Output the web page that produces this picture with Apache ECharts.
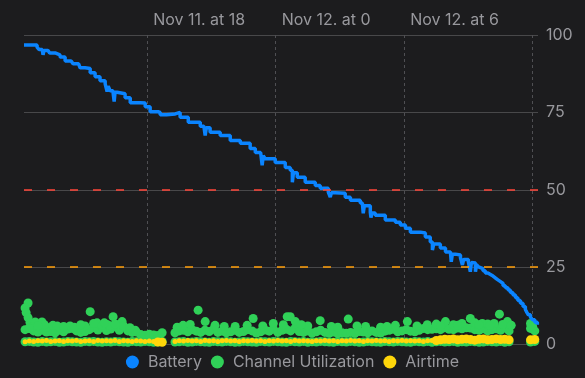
<!DOCTYPE html>
<html>
<head>
<meta charset="utf-8">
<script src="https://cdn.jsdelivr.net/npm/echarts@6/dist/echarts.min.js"></script>
<style>
  html, body { margin: 0; padding: 0; background: #1c1c1e; }
  #chart { width: 585px; height: 378px; }
</style>
</head>
<body>
<div id="chart"></div>
<script>
// x axis is hours since Nov 11 00:00
const tickHours = [18, 24, 30, 36];
const labelHours = [18, 24, 30];
const tickLabels = ["Nov 11. at 18", "Nov 12. at 0", "Nov 12. at 6"];

// battery level [hour, %]
const battery = [
  [12.25, 96.8], [12.86, 96.1], [12.95, 95.3], [13.10, 95.2], [13.14, 93.6], [13.18, 95.0],
  [13.37, 94.9], [13.45, 94.2], [13.70, 93.6], [13.93, 92.9], [14.17, 91.6], [14.45, 91.3],
  [14.54, 90.7], [14.80, 90.4], [14.87, 89.4], [15.10, 89.2], [15.34, 87.8], [15.57, 86.5],
  [15.80, 85.2], [16.04, 84.2], [16.13, 81.7], [16.18, 83.5], [16.27, 82.0], [16.40, 82.0],
  [16.46, 78.5], [16.50, 81.5], [16.60, 81.0], [16.97, 79.7], [17.21, 78.1], [17.67, 78.0],
  [17.91, 76.8], [18.14, 75.2], [18.51, 75.0], [18.61, 74.2], [18.90, 74.5], [19.31, 75.0],
  [19.54, 73.4], [19.92, 71.8], [20.48, 70.5], [20.65, 70.3], [20.71, 67.5], [20.76, 70.0],
  [20.94, 68.6], [21.41, 67.5], [21.88, 65.9], [22.35, 65.0], [22.81, 63.3], [23.05, 62.0],
  [23.30, 61.5], [23.37, 57.9], [23.42, 61.0], [23.51, 60.0], [23.98, 58.8], [24.45, 57.2],
  [24.68, 56.3], [24.78, 52.4], [24.83, 55.5], [25.01, 54.0], [25.38, 52.4], [25.85, 51.4],
  [26.08, 50.5], [26.46, 49.2], [26.55, 47.6], [26.60, 49.0], [26.79, 48.9], [27.25, 47.6],
  [27.49, 46.6], [27.95, 45.7], [28.05, 45.5], [28.09, 42.4], [28.14, 44.8], [28.42, 42.8],
  [28.45, 41.0], [28.50, 42.5], [28.65, 41.8], [29.12, 40.2], [29.59, 39.5], [29.82, 38.6],
  [30.06, 37.6], [30.29, 36.3], [30.76, 36.0], [30.99, 34.7], [31.22, 33.1], [31.32, 30.5],
  [31.38, 32.5], [31.69, 31.2], [31.93, 29.9], [32.16, 29.5], [32.20, 26.7], [32.25, 29.2],
  [32.39, 28.9], [32.63, 28.0], [32.72, 25.7], [32.78, 27.5], [33.00, 26.7], [33.09, 23.5],
  [33.14, 26.5], [33.19, 26.3], [33.33, 23.5], [33.38, 25.8], [33.47, 25.1], [33.56, 24.5],
  [33.68, 23.8], [33.79, 23.1], [33.91, 22.6], [34.03, 22.1], [34.15, 21.5], [34.26, 20.9],
  [34.38, 20.3], [34.50, 19.7], [34.62, 19.0], [34.73, 18.3], [34.85, 17.6], [34.96, 16.8],
  [35.08, 16.0], [35.20, 15.1], [35.31, 14.2], [35.43, 13.3], [35.55, 12.3], [35.66, 11.3],
  [35.73, 10.4], [35.80, 9.6], [35.90, 8.8], [35.99, 8.0], [36.10, 7.2], [36.22, 6.4]
];

// regular samples: every 0.2 h starting 12.3 h (null = no reading)
const sampleStart = 12.3;
const sampleStep = 0.2;

const chUtilBase = [
  0.9, 1.0, 0.8, 0.7, 1.0, 0.8, 0.9, 1.0, 0.7, 0.8,
  1.0, 0.9, 0.8, 0.7, 1.0, 0.9, 1.0, 0.8, 0.7, 0.9,
  0.8, 1.0, 0.9, 0.8, 0.7, 1.0, 0.9, 0.8, 1.0, 0.9,
  0.7, 0.8, 1.0, null, null, 0.8, 0.9, 1.0, 0.7, 0.8,
  1.0, 0.9, 0.8, 0.7, 1.0, 0.9, 0.8, 1.0, 0.9, 0.7,
  0.8, 1.0, 0.9, 0.8, 0.7, 1.0, 0.9, 0.8, 1.0, 0.9,
  0.8, 0.7, 1.0, 0.9, 0.8, 1.0, 0.7, 0.9, 0.8, 1.0,
  0.9, 0.8, 0.7, 1.0, 0.9, 0.8, 1.0, 0.9, 0.7, 0.8,
  1.0, 0.9, 0.8, 0.7, 1.0, 0.9, 0.8, 1.0, 0.9, 0.8,
  0.7, 1.0, 0.9, 0.8, 1.0, 0.7, 0.9, 1.0, 0.8, 0.9,
  1.0, 0.7, 0.9, 0.8, 1.0, 0.9, 0.7, 0.8, 1.0, 0.9,
  0.8, 1.0, 0.7, 0.9, null, null, null, null, 0.8, 1.0
];

const chUtilMid = [
  4.8, 5.2, 4.4, 4.0, 4.6, 4.0, 4.2, 3.8, 4.6, 4.1,
  5.0, 5.2, 4.4, 3.9, 4.2, 4.8, 5.4, 4.7, 5.6, 4.5,
  5.0, 5.8, 4.6, 5.6, 4.4, 3.9, 4.0, 3.2, 3.0, 3.3,
  3.1, 2.9, 3.8, null, null, 3.8, 4.4, 4.6, 4.1, 4.8,
  4.3, 3.9, 4.6, 4.2, 4.9, 3.9, 4.3, 3.8, 4.1, 4.6,
  3.9, 4.2, 4.8, 4.4, 3.7, 4.1, 4.7, 4.3, 4.9, 3.9,
  4.6, 4.9, 4.4, 5.2, 4.2, 3.9, 4.4, 3.7, 4.1, 4.6,
  3.9, 3.6, 4.0, 3.5, 3.8, 3.6, 3.9, 3.6, 4.2, 4.0,
  3.8, 4.4, 3.9, 3.7, 4.3, 4.6, 4.9, 4.1, 4.4, 4.8,
  4.3, 4.1, 4.6, 5.2, 4.8, 4.9, 5.1, 4.8, 5.4, 4.9,
  4.8, 5.3, 5.1, 5.4, 5.3, 4.8, 4.6, 5.1, 4.4, 4.8,
  5.1, 4.6, 5.3, 4.4, null, null, null, null, 5.2, 4.4
];

// scattered higher readings [hour, %]
const chUtilPeaks = [
  [12.44, 13.4], [12.30, 11.8], [12.35, 10.3], [12.44, 8.7], [12.53, 7.1], [12.77, 7.3],
  [13.09, 7.3], [12.67, 5.7], [12.50, 5.2], [13.30, 5.6], [15.34, 10.6], [16.41, 9.0],
  [16.83, 7.4], [15.66, 7.0], [16.13, 6.5], [16.27, 6.0], [14.40, 6.0], [13.93, 5.4],
  [17.44, 4.6], [14.60, 5.6], [15.90, 6.2], [16.60, 6.4], [15.10, 6.0], [13.60, 6.2],
  [13.80, 6.0], [14.10, 5.8], [14.90, 6.4], [15.50, 6.8], [16.00, 7.0], [16.50, 6.6],
  [16.90, 6.0], [17.20, 5.4], [13.20, 6.4], [12.90, 6.0],
  [20.38, 11.1], [20.71, 7.4], [21.17, 6.2], [22.95, 8.4], [22.67, 6.2], [23.89, 6.8],
  [24.54, 9.0], [19.68, 6.2], [20.01, 6.5], [22.11, 5.8], [24.68, 9.0], [24.92, 7.4],
  [26.08, 7.7], [27.39, 8.2], [30.15, 7.4], [31.08, 6.4], [29.59, 6.2], [24.36, 6.4],
  [25.50, 6.0], [26.60, 5.8], [28.20, 5.8], [28.90, 5.6], [21.60, 5.8], [23.40, 6.0],
  [19.40, 5.6], [25.20, 6.4], [27.80, 6.0], [29.20, 5.8], [30.60, 6.0], [26.90, 5.6],
  [34.45, 9.8], [31.93, 7.4], [33.09, 8.4], [33.65, 6.8], [34.82, 7.4], [35.90, 6.8],
  [31.50, 6.6], [32.30, 6.4], [32.70, 6.8], [33.30, 7.0], [33.90, 6.6], [34.20, 6.8],
  [34.60, 6.5], [35.00, 6.2], [36.00, 5.8], [31.70, 6.0], [32.50, 6.2], [33.50, 6.4],
  [34.00, 6.2]
];

const airtime = [
  0.9, 1.1, 1.0, 1.2, 1.1, 1.3, 1.0, 1.1, 1.2, 1.0,
  1.2, 1.1, 1.3, 1.0, 1.1, 1.2, 1.0, 1.3, 1.1, 1.2,
  1.1, 1.3, 1.0, 1.2, 1.1, 1.0, 1.2, 1.1, 1.0, 1.1,
  1.0, 0.8, 0.7, null, null, 1.0, 1.2, 1.1, 1.3, 1.1,
  1.2, 1.0, 1.3, 1.1, 1.2, 1.0, 1.2, 1.3, 1.1, 1.2,
  1.0, 1.2, 1.1, 1.3, 1.1, 1.2, 1.0, 1.2, 1.1, 1.3,
  1.1, 1.2, 1.0, 1.3, 1.1, 1.2, 1.1, 1.0, 1.2, 1.1,
  1.3, 1.1, 1.2, 1.0, 1.2, 1.1, 1.3, 1.1, 1.2, 1.0,
  1.2, 1.1, 1.3, 1.1, 1.2, 1.0, 1.2, 1.1, 1.3, 1.1,
  1.2, 1.1, 1.2, 1.0, 1.2, 1.3, 1.3, 1.5, 1.7, 1.6,
  1.8, 1.5, 1.7, 1.8, 1.6, 1.4, 1.7, 1.8, 1.5, 1.6,
  1.8, 1.6, 1.7, 1.5, null, null, null, null, 1.5, 1.6
];

// pair regular samples with their hour, skip missing readings
function toPairs(values) {
  const out = [];
  values.forEach(function (v, i) {
    if (v === null) return;
    out.push([+(sampleStart + i * sampleStep).toFixed(2), v]);
  });
  return out;
}

const axisGray = "#98989d";
const fontFamily = "Inter, 'Noto Sans', sans-serif";

const chart = echarts.init(document.getElementById("chart"), null, { renderer: "canvas" });

chart.setOption({
  backgroundColor: "#1c1c1e",
  animation: false,
  grid: { left: 24, right: 47, top: 35, bottom: 33.5 },
  legend: {
    bottom: 3,
    left: "center",
    itemWidth: 21,
    itemHeight: 13,
    itemGap: 9,
    icon: "circle",
    textStyle: { color: axisGray, fontSize: 16, fontFamily: fontFamily },
    data: ["Battery", "Channel Utilization", "Airtime"],
  },
  xAxis: {
    type: "value",
    position: "top",
    min: 12.25,
    max: 36.25,
    axisLine: { show: false },
    axisTick: {
      show: true,
      customValues: tickHours,
      length: 24,
      lineStyle: { color: "#4f4f53", type: [3, 3] },
    },
    splitLine: {
      show: true,
      lineStyle: { color: "#4f4f53", type: [3, 3] },
    },
    axisLabel: {
      customValues: labelHours,
      color: axisGray,
      fontSize: 16,
      fontFamily: fontFamily,
      align: "left",
      margin: 7,
      padding: [0, 0, 0, 6],
      formatter: function (v) {
        return tickLabels[labelHours.indexOf(v)] || "";
      },
    },
  },
  yAxis: {
    type: "value",
    position: "right",
    min: 0,
    max: 100,
    interval: 25,
    axisLine: { show: false },
    axisTick: { show: false },
    splitLine: { lineStyle: { color: "#48484a", width: 1 } },
    axisLabel: {
      color: axisGray,
      fontSize: 16,
      fontFamily: fontFamily,
      margin: 8,
    },
  },
  series: [
    {
      name: "Channel Utilization",
      type: "scatter",
      symbolSize: 9,
      itemStyle: { color: "#30d158", opacity: 1 },
      data: toPairs(chUtilBase).concat(toPairs(chUtilMid), chUtilPeaks),
      z: 2,
    },
    {
      name: "Airtime",
      type: "scatter",
      symbolSize: function (val) {
        // later readings were drawn with bigger marks
        return val[0] >= 31.4 || (val[0] > 18.4 && val[0] < 18.8) ? 9 : 5;
      },
      itemStyle: { color: "#ffd60a", opacity: 1 },
      data: toPairs(airtime),
      z: 3,
    },
    {
      name: "Battery",
      type: "line",
      step: "end",
      showSymbol: false,
      symbol: "none",
      lineStyle: { color: "#0a84ff", width: 3.5 },
      itemStyle: { color: "#0a84ff" },
      data: battery,
      z: 4,
      markLine: {
        silent: true,
        symbol: "none",
        label: { show: false },
        data: [
          { yAxis: 50, lineStyle: { color: "#ff453a", type: [8, 15], width: 1.5 } },
          { yAxis: 25, lineStyle: { color: "#ff9f0a", type: [8, 15], width: 1.5 } },
        ],
      },
    },
  ],
});
</script>
</body>
</html>
